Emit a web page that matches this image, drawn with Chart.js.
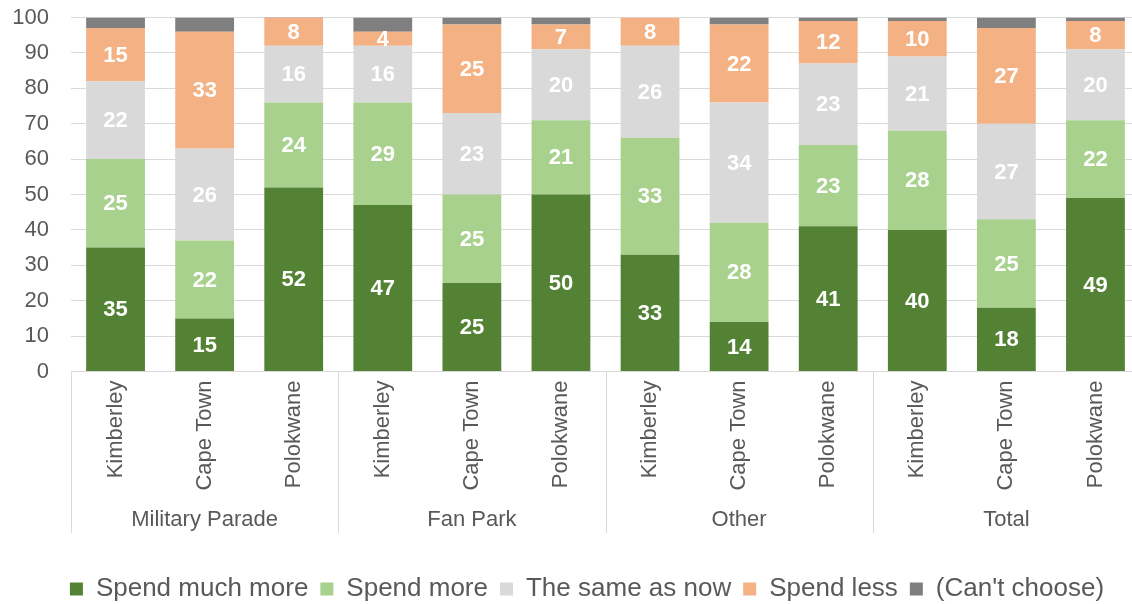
<!DOCTYPE html>
<html>
<head>
<meta charset="utf-8">
<script src="https://cdn.jsdelivr.net/npm/chart.js@4"></script>
<style>
  html, body { margin: 0; padding: 0; background: #fff; overflow: hidden; }
  #wrap { width: 1174px; height: 604px; }
</style>
</head>
<body>
<div id="wrap"><canvas id="spendChart" width="1174" height="604"></canvas></div>
<script>
const groups = ['Military Parade', 'Fan Park', 'Other', 'Total'];
const cities = ['Kimberley', 'Cape Town', 'Polokwane'];
const categories = groups.flatMap(() => cities);

const spendMuchMore = [35, 15, 52, 47, 25, 50, 33, 14, 41, 40, 18, 49];
const spendMore     = [25, 22, 24, 29, 25, 21, 33, 28, 23, 28, 25, 22];
const sameAsNow     = [22, 26, 16, 16, 23, 20, 26, 34, 23, 21, 27, 20];
const spendLess     = [15, 33, 8, 4, 25, 7, 8, 22, 12, 10, 27, 8];
const cantChoose    = [3, 4, 1, 4, 2, 2, 0, 2, 1, 1, 3, 1];

const yTicks = [0, 10, 20, 30, 40, 50, 60, 70, 80, 90, 100];

const FONT = "'Liberation Sans', Arial, sans-serif";
const TEXT_GREY = '#595959';
const LINE_GREY = '#d9d9d9';

// white value labels in the middle of each segment
const segmentLabels = {
  id: 'segmentLabels',
  afterDatasetsDraw(chart) {
    const ctx = chart.ctx;
    ctx.save();
    ctx.font = 'bold 22px ' + FONT;
    ctx.fillStyle = '#ffffff';
    ctx.textAlign = 'center';
    ctx.textBaseline = 'middle';
    chart.data.datasets.forEach((ds, i) => {
      if (ds.noLabels) return;
      chart.getDatasetMeta(i).data.forEach((bar, j) => {
        const v = ds.data[j];
        if (!v) return;
        ctx.fillText(String(v), bar.x, (bar.y + bar.base) / 2 + 1);
      });
    });
    ctx.restore();
  }
};

// second row of the category axis: group names and divider lines
const groupAxis = {
  id: 'groupAxis',
  afterDraw(chart) {
    const ctx = chart.ctx;
    const xs = chart.scales.x;
    const slot = xs.getPixelForValue(1) - xs.getPixelForValue(0);
    const top = chart.chartArea.bottom;
    ctx.save();
    ctx.strokeStyle = LINE_GREY;
    ctx.lineWidth = 1;
    ctx.font = '22px ' + FONT;
    ctx.fillStyle = TEXT_GREY;
    ctx.textAlign = 'center';
    ctx.textBaseline = 'middle';
    groups.forEach((g, k) => {
      const left = xs.getPixelForValue(k * 3) - slot / 2;
      const right = left + slot * cities.length;
      [left, right].forEach(px => {
        const x = Math.round(px) + 0.5;
        ctx.beginPath();
        ctx.moveTo(x, top);
        ctx.lineTo(x, 533);
        ctx.stroke();
      });
      ctx.fillText(g, (left + right) / 2, 520);
    });
    ctx.restore();
  }
};

// nudge the legend row a little right and down
const legendOffset = {
  id: 'legendOffset',
  afterLayout(chart) {
    const lg = chart.legend;
    if (!lg) return;
    lg.left += 17; lg.right += 17;
    lg.top += 8; lg.bottom += 8;
  }
};

const ctx = document.getElementById('spendChart').getContext('2d');

new Chart(ctx, {
  type: 'bar',
  data: {
    labels: categories,
    datasets: [
      { label: 'Spend much more', data: spendMuchMore, backgroundColor: '#548235' },
      { label: 'Spend more', data: spendMore, backgroundColor: '#a9d18e' },
      { label: 'The same as now', data: sameAsNow, backgroundColor: '#d9d9d9' },
      { label: 'Spend less', data: spendLess, backgroundColor: '#f4b183' },
      { label: "(Can't choose)", data: cantChoose, backgroundColor: '#7f7f7f', noLabels: true }
    ]
  },
  options: {
    responsive: false,
    animation: false,
    categoryPercentage: 1,
    barPercentage: 0.66,
    layout: { padding: { top: 0, right: 34, left: 0, bottom: 0 } },
    scales: {
      x: {
        stacked: true,
        grid: { display: false },
        border: { color: LINE_GREY },
        ticks: {
          color: TEXT_GREY,
          font: { family: FONT, size: 22 },
          minRotation: 90,
          maxRotation: 90,
          padding: 1,
          autoSkip: false
        },
        afterFit(scale) {
          scale.height = 184.5;
          scale.paddingTop = 0;
        }
      },
      y: {
        stacked: true,
        min: 0,
        max: 100,
        afterBuildTicks(scale) { scale.ticks = yTicks.map(v => ({ value: v })); },
        grid: { color: LINE_GREY, drawTicks: false },
        border: { display: false },
        ticks: {
          color: TEXT_GREY,
          font: { family: FONT, size: 22 },
          padding: 22
        },
        afterFit(scale) {
          scale.width = 71;
          scale.paddingTop = 17.5;
        }
      }
    },
    plugins: {
      legend: {
        position: 'bottom',
        labels: {
          color: TEXT_GREY,
          font: { family: FONT, size: 26 },
          boxWidth: 13,
          boxHeight: 13,
          padding: 12
        }
      },
      tooltip: { enabled: false }
    }
  },
  plugins: [segmentLabels, groupAxis, legendOffset]
});
</script>
</body>
</html>
